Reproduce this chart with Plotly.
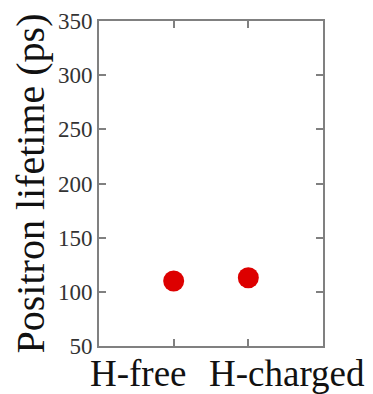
import plotly.graph_objects as go

categories = ["H-free", "H-charged"]
lifetime_ps = [110, 113]
y_ticks = [50, 100, 150, 200, 250, 300, 350]
label_shift = [-35, 39]

fig = go.Figure()
fig.add_trace(go.Scatter(
    x=list(range(len(categories))), y=lifetime_ps, mode="markers",
    marker=dict(color="#dd0000", size=21, line=dict(width=0)),
    showlegend=False,
))

font_family = "Liberation Serif, Times New Roman, serif"
axis_common = dict(
    showline=True, linecolor="#808080", linewidth=2, mirror="ticks",
    ticks="inside", ticklen=7, tickwidth=1.5, tickcolor="#808080",
    showgrid=False, zeroline=False, automargin=False,
)
for i, (cat, sh) in enumerate(zip(categories, label_shift)):
    fig.add_annotation(
        x=i, xref="x", y=0, yref="paper", yanchor="top", yshift=-5,
        xshift=sh, text=cat, showarrow=False,
        font=dict(size=37, family=font_family, color="#111111"),
    )
fig.update_layout(
    width=365, height=386,
    margin=dict(l=91, r=50, t=13, b=48),
    paper_bgcolor="white", plot_bgcolor="white",
    font=dict(family=font_family, color="#222222"),
    xaxis=dict(
        range=[-1, 2], tickvals=[0, 1], ticktext=["", ""],
        **axis_common,
    ),
    yaxis=dict(
        range=[50, 350], tickvals=y_ticks,
        tickfont=dict(size=23, family=font_family, color="#333333"),
        title=dict(text="Positron lifetime (ps)",
                   font=dict(size=40, family=font_family, color="#111111"),
                   standoff=10),
        **axis_common,
    ),
)
fig.write_html("out.html")
